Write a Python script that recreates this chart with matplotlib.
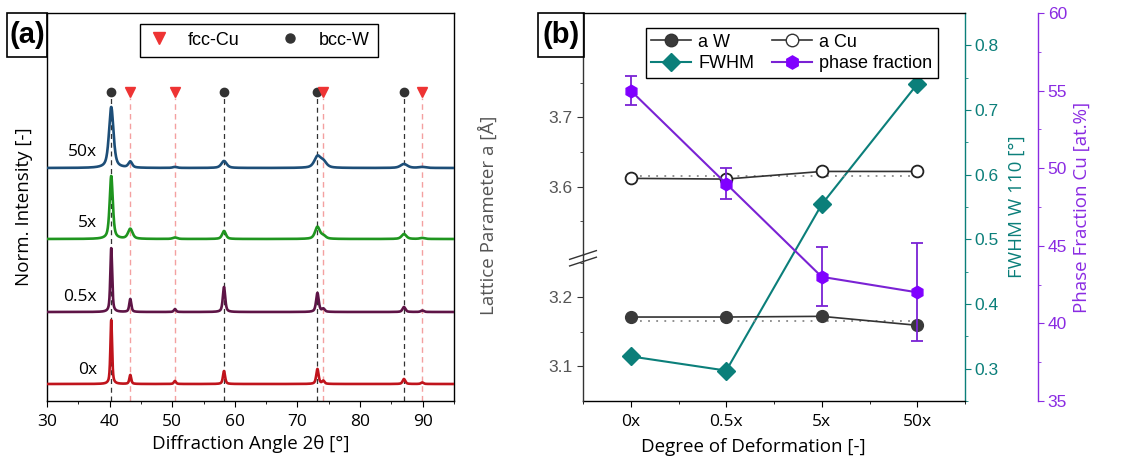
import numpy as np
import matplotlib
matplotlib.use('Agg')
import matplotlib.pyplot as plt
from matplotlib.lines import Line2D
from matplotlib.ticker import MultipleLocator, FixedLocator
from matplotlib.patches import Rectangle

# ---------------- data: panel (a) XRD patterns ----------------
samples = ['0x', '0.5x', '5x', '50x']
sample_colors = ['#c0141c', '#5e1446', '#1f951f', '#1d4e78']
baselines = [17, 89, 162, 233]
label_y = [31, 104, 178, 249]
label_x = 38.0

peak_pos = [40.26, 43.30, 50.43, 58.27, 73.19, 74.13, 87.01, 89.93]
peak_h = {
    '0x':   [64, 9, 3, 13, 15, 3, 5, 1.5],
    '0.5x': [64, 13, 3, 25, 19, 3, 5, 1.5],
    '5x':   [63, 10, 1.5, 8, 12, 3, 5, 1],
    '50x':  [61, 6, 1, 7, 11, 6, 4, 1],
}
peak_w = {
    '0x':   [0.32, 0.35, 0.40, 0.40, 0.45, 0.45, 0.50, 0.50],
    '0.5x': [0.35, 0.38, 0.40, 0.45, 0.50, 0.50, 0.55, 0.55],
    '5x':   [0.60, 0.85, 0.80, 0.70, 0.90, 0.90, 0.90, 0.90],
    '50x':  [0.85, 0.70, 0.80, 1.00, 1.20, 1.20, 1.30, 1.30],
}
w_ref_pos = [40.26, 58.27, 73.19, 87.01]
cu_ref_pos = [43.30, 50.43, 74.13, 89.93]
marker_row = 309
ref_line_top = 303

# ---------------- data: panel (b) ----------------
deform_labels = ['0x', '0.5x', '5x', '50x']
a_W = [3.171, 3.171, 3.172, 3.159]
a_Cu = [3.612, 3.611, 3.622, 3.622]
a_W_ref = 3.165
a_Cu_ref = 3.616
fwhm = [0.319, 0.297, 0.554, 0.740]
phase = [55.0, 49.0, 43.0, 42.0]
phase_err = [0.95, 1.0, 1.9, 3.15]

# ---------------- styling ----------------
TEAL = '#0b7f7a'
PURPLE = '#8a2be2'
PURPLE_M = '#8000ff'
GREY = '#555555'
LAB = ['Open Sans', 'DejaVu Sans']
ARIAL = ['Liberation Sans', 'DejaVu Sans']
plt.rcParams['font.family'] = ARIAL
plt.rcParams['axes.linewidth'] = 1.0

W, H = 1140, 461
fig = plt.figure(figsize=(W / 100, H / 100), dpi=100)


def fr(l, t, r, b):
    return [l / W, (H - b) / H, (r - l) / W, (b - t) / H]


# ================= panel (a) =================
axA = fig.add_axes(fr(47, 13, 454, 401))
x = np.linspace(30, 95, 3000)
eta = 0.6
for s, c, b in zip(samples, sample_colors, baselines):
    y = np.full_like(x, float(b))
    for p, h, w in zip(peak_pos, peak_h[s], peak_w[s]):
        d = (x - p) / (w / 2)
        y += h * (eta / (1 + d ** 2) + (1 - eta) * np.exp(-np.log(2) * d ** 2))
    axA.plot(x, y, color=c, lw=1.9, zorder=3)

for i, s in enumerate(samples):
    axA.text(label_x, label_y[i], s, ha='right', va='center', fontsize=12.5,
             family=LAB)

for p in w_ref_pos:
    axA.plot([p, p], [0, ref_line_top], ls=(0, (4, 3)), color='#333333',
             lw=0.9, zorder=2)
for p in cu_ref_pos:
    axA.plot([p, p], [0, ref_line_top], ls=(0, (4, 3)), color='#f4a0a0',
             lw=1.0, zorder=2)
axA.plot(w_ref_pos, [marker_row] * len(w_ref_pos), 'o', color='#333333',
         ms=6, ls='none', zorder=4)
axA.plot(cu_ref_pos, [marker_row] * len(cu_ref_pos), 'v', color='#ee3333',
         ms=7, ls='none', zorder=4)

axA.set_xlim(30, 95)
axA.set_ylim(0, 388)
axA.set_yticks([])
axA.xaxis.set_major_locator(MultipleLocator(10))
axA.xaxis.set_minor_locator(MultipleLocator(5))
axA.tick_params(axis='x', which='major', direction='out', length=4,
                labelsize=12.5, pad=5)
axA.tick_params(axis='x', which='minor', direction='out', length=2.5)
for lab in axA.get_xticklabels():
    lab.set_family(LAB)
axA.set_xlabel('Diffraction Angle 2θ [°]', fontsize=13.5, family=LAB,
               labelpad=4)
axA.set_ylabel('Norm. Intensity [-]', fontsize=13.5, family=LAB, labelpad=10)

legA = [Line2D([], [], marker='v', color='#ee3333', ls='none', ms=8),
        Line2D([], [], marker='o', color='#333333', ls='none', ms=6.5)]
axA.legend(legA, ['fcc-Cu', 'bcc-W'], ncol=2, loc='center',
           bbox_to_anchor=(0.521, 0.930), fontsize=13, frameon=True,
           fancybox=False, edgecolor='black', framealpha=1,
           handlelength=1.2, columnspacing=2.2, handletextpad=1.0,
           borderpad=0.45).get_frame().set_linewidth(1.0)

# ================= panel (b) =================
xi = np.arange(len(deform_labels))
axF = fig.add_axes(fr(583, 13, 965, 401))
axU = fig.add_axes(fr(583, 13, 965, 255))
axL = fig.add_axes(fr(583, 255, 965, 401))
axP = fig.add_axes(fr(583, 13, 965, 401))
for ax in (axU, axL, axP):
    ax.patch.set_visible(False)

# FWHM axis (frame)
axF.plot(xi, fwhm, '-D', color=TEAL, ms=9, lw=1.5, zorder=3)
axF.set_xlim(-0.5, 3.5)
axF.set_ylim(0.25, 0.85)
axF.yaxis.tick_right()
axF.yaxis.set_label_position('right')
axF.yaxis.set_major_locator(FixedLocator([0.3, 0.4, 0.5, 0.6, 0.7, 0.8]))
axF.yaxis.set_minor_locator(FixedLocator([0.25, 0.35, 0.45, 0.55, 0.65, 0.75]))
axF.tick_params(axis='y', which='both', colors=TEAL, direction='out')
axF.tick_params(axis='y', which='major', length=4, labelsize=12.5, pad=3)
axF.tick_params(axis='y', which='minor', length=2.5)
axF.spines['right'].set_color(TEAL)
axF.spines['left'].set_visible(False)
axF.set_ylabel('FWHM W 110 [°]', color=TEAL, fontsize=13.5, family=LAB,
               labelpad=6)
axF.set_xticks(xi)
axF.set_xticklabels(deform_labels)
axF.xaxis.set_minor_locator(FixedLocator([-0.5, 0.5, 1.5, 2.5, 3.5]))
axF.tick_params(axis='x', which='major', direction='out', length=4,
                labelsize=12.5, pad=5)
axF.tick_params(axis='x', which='minor', direction='out', length=2.5)
for lab in axF.get_xticklabels():
    lab.set_family(LAB)
axF.set_xlabel('Degree of Deformation [-]', fontsize=13.5, family=LAB,
               labelpad=4)
axF.xaxis.set_label_coords((753 - 583) / 382, -0.095)

# lattice parameter axes (broken)
for ax in (axU, axL):
    ax.set_xlim(-0.5, 3.5)
    ax.set_xticks([])
    for sp in ('top', 'right', 'bottom'):
        ax.spines[sp].set_visible(False)
    ax.spines['left'].set_color('#333333')
    ax.tick_params(axis='y', which='major', direction='out', length=4,
                   labelsize=12.5, labelcolor=GREY, color='#333333')
    ax.tick_params(axis='y', which='minor', direction='out', length=2.5,
                   color='#333333')
axU.set_ylim(3.5014, 3.8507)
axL.set_ylim(3.0493, 3.2609)
axU.yaxis.set_major_locator(FixedLocator([3.6, 3.7]))
axU.yaxis.set_minor_locator(FixedLocator([3.55, 3.65, 3.75]))
axL.yaxis.set_major_locator(FixedLocator([3.1, 3.2]))
axL.yaxis.set_minor_locator(FixedLocator([3.15, 3.25]))

axU.hlines(a_Cu_ref, 0.1, 2.95, colors='#888888', linestyles=(0, (1, 3.5)),
           lw=1.3, zorder=2)
axL.hlines(a_W_ref, 0.1, 2.95, colors='#888888', linestyles=(0, (1, 3.5)),
           lw=1.3, zorder=2)
axU.plot(xi, a_Cu, '-o', color='#333333', mfc='white', mec='#222222',
         mew=1.3, ms=8.5, lw=1.2, zorder=3)
axL.plot(xi, a_W, '-o', color='#333333', mfc='#3a3a3a', mec='#3a3a3a',
         ms=8.5, lw=1.2, zorder=3)

# break marks
for dy in (0.0, 0.045):
    axL.plot([-0.035, 0.035], [1.0 - dy - 0.03, 1.0 - dy + 0.03],
             transform=axL.transAxes, color='#333333', lw=1.0, clip_on=False)

fig.text(488 / W, 1 - 215 / H, 'Lattice Parameter a [Å]', rotation=90,
         ha='center', va='center', fontsize=13.5, color=GREY, family=LAB)

# phase fraction axis
axP.errorbar(xi, phase, yerr=phase_err, fmt='-h', color='#7a22d4',
             mfc=PURPLE_M, mec=PURPLE_M, ms=9, lw=1.5, capsize=4,
             elinewidth=1.3, capthick=1.3, zorder=4)
axP.set_xlim(-0.5, 3.5)
axP.set_ylim(35, 60)
axP.set_xticks([])
for sp in ('top', 'left', 'bottom'):
    axP.spines[sp].set_visible(False)
axP.spines['right'].set_position(('axes', 1 + 73 / 382))
axP.spines['right'].set_color(PURPLE)
axP.yaxis.tick_right()
axP.yaxis.set_label_position('right')
axP.yaxis.set_major_locator(MultipleLocator(5))
axP.yaxis.set_minor_locator(MultipleLocator(2.5))
axP.tick_params(axis='y', which='both', colors=PURPLE, direction='out')
axP.tick_params(axis='y', which='major', length=4, labelsize=12.5, pad=3)
axP.tick_params(axis='y', which='minor', length=2.5)
axP.set_ylabel('Phase Fraction Cu [at.%]', color=PURPLE, fontsize=13.5,
               family=LAB, labelpad=4)

h_aW = Line2D([], [], marker='o', color='#333333', mfc='#3a3a3a', ms=9, lw=1.2)
h_aCu = Line2D([], [], marker='o', color='#333333', mfc='white', ms=9, lw=1.2)
h_fw = Line2D([], [], marker='D', color=TEAL, ms=9, lw=1.5)
h_ph = Line2D([], [], marker='h', color='#7a22d4', mfc=PURPLE_M,
              mec=PURPLE_M, ms=9.5, lw=1.5)
# legend fills column-major: column 1 = a W, FWHM; column 2 = a Cu, phase fraction
legb = axP.legend([h_aW, h_fw, h_aCu, h_ph],
                  ['a W', 'FWHM', 'a Cu', 'phase fraction'], ncol=2,
                  loc='center', bbox_to_anchor=(0.547, 0.897), fontsize=13,
                  frameon=True, fancybox=False, edgecolor='black',
                  framealpha=1, handlelength=2.2, columnspacing=1.0,
                  handletextpad=0.4, borderpad=0.3, labelspacing=0.25)
legb.get_frame().set_linewidth(1.0)
legb.set_zorder(10)

# panel labels
for (l, t, r, b, s) in [(7, 13, 47, 57, '(a)'), (538, 13, 584, 57, '(b)')]:
    fig.patches.append(Rectangle((l / W, 1 - b / H), (r - l) / W, (b - t) / H,
                                 transform=fig.transFigure, fill=False,
                                 edgecolor='black', lw=1.2))
    fig.text((l + r) / 2 / W, 1 - (t + b) / 2 / H, s, ha='center',
             va='center', fontsize=21, fontweight='bold',
             family=['Liberation Sans Narrow', 'Liberation Sans'])

fig.savefig('out.png', dpi=100)
